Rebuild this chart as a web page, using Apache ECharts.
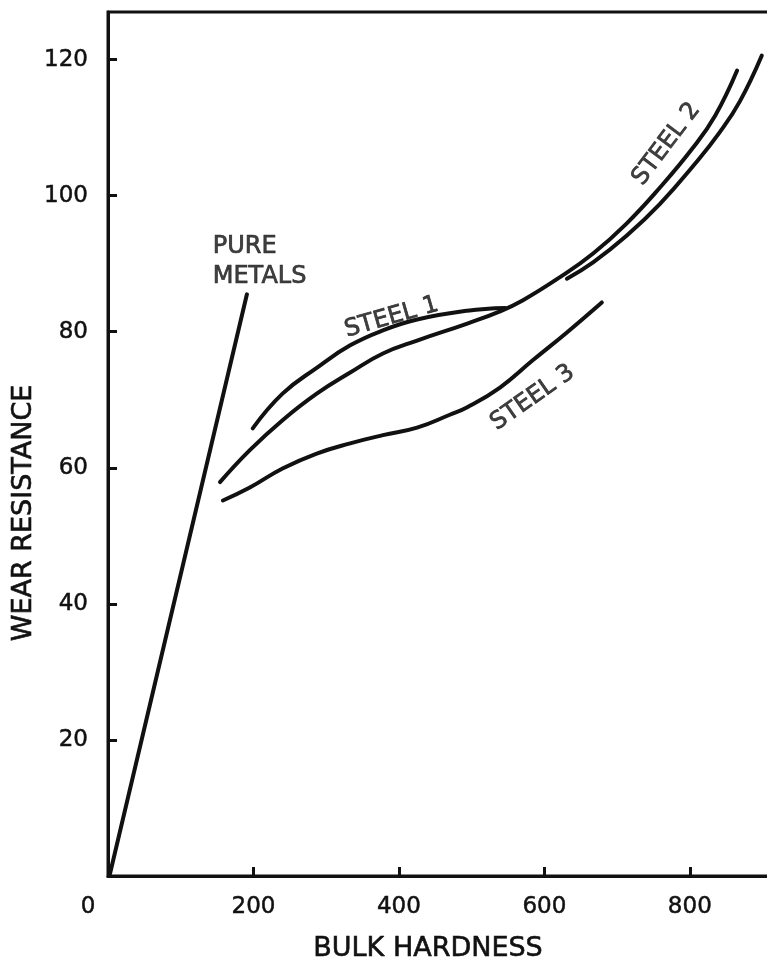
<!DOCTYPE html>
<html>
<head>
<meta charset="utf-8">
<script src="https://cdn.jsdelivr.net/npm/echarts@6/dist/echarts.min.js"></script>
<style>
html,body{margin:0;padding:0;background:#fff;}
#chart{width:767px;height:960px;}
</style>
</head>
<body>
<div id="chart"></div>
<script>
// ---- data (bulk hardness, wear resistance) ----
var xTicks = [0, 200, 400, 600, 800];
var yTicks = [20, 40, 60, 80, 100, 120];

var pureMetals = [[2, 0], [191, 85.5]];

var steel1Upper = [
  [199, 65.8], [240, 70.9], [287, 74.7], [333, 78.0], [378, 80.2],
  [425, 81.8], [494, 83.1], [546, 83.5]
];

var steel1Steel2Main = [
  [154, 57.9], [195, 62.6], [240, 67.0], [287, 70.9], [333, 74.0],
  [378, 76.8], [425, 78.7], [494, 81.2], [539, 83.0], [570, 84.6],
  [621, 88.0], [667, 91.5], [713, 95.9], [759, 101.2], [804, 107.0],
  [835, 111.8], [865, 118.4]
];

var steel2Lower = [
  [631, 87.8], [667, 90.2], [713, 94.1], [759, 98.8], [808, 104.8],
  [841, 109.3], [869, 113.9], [899, 120.6]
];

var steel3 = [
  [158, 55.2], [195, 57.1], [240, 59.9], [287, 62.1], [333, 63.6],
  [378, 64.8], [425, 65.9], [470, 67.8], [494, 68.9], [539, 71.8],
  [584, 75.8], [631, 79.9], [679, 84.3]
];

var curveNames = ['PURE\nMETALS', 'STEEL 1', 'STEEL 2', 'STEEL 3'];
var curveNameAnchors = [[144, 90.3], [390, 82.1], [768, 107.6], [584, 70.3]];

// ---- chart ----
var FONT = '"DejaVu Sans", "Liberation Sans", sans-serif';
var INK = '#111';

function lineSeries(data) {
  return {
    type: 'line', data: data, smooth: 0.45, showSymbol: false, symbol: 'none',
    lineStyle: { color: INK, width: 4, cap: 'round' }, silent: true, z: 3
  };
}

var labelRot = [0, 16, 53, 35];
var labelData = curveNames.map(function (n, i) {
  var item = { value: curveNameAnchors[i], name: n,
    label: { rotate: labelRot[i] } };
  if (i === 0) {
    item.label = { position: 'right', distance: 0, align: 'left', rotate: 0, lineHeight: 30 };
  }
  return item;
});

var chart = echarts.init(document.getElementById('chart'), null, { renderer: 'canvas' });
chart.setOption({
  animation: false,
  backgroundColor: '#fff',
  grid: { left: 108, top: 12, width: 680, height: 864, show: true,
    outerBoundsMode: 'none', containLabel: false,
    borderColor: INK, borderWidth: 3, backgroundColor: 'transparent' },
  xAxis: {
    type: 'value', min: 0, max: 935, interval: 200,
    splitLine: { show: false },
    axisLine: { show: true, lineStyle: { color: INK, width: 3 } },
    axisTick: { show: true, inside: true, length: 9, lineStyle: { color: INK, width: 3 } },
    axisLabel: {
      show: true, margin: 20, color: INK, fontFamily: FONT, fontSize: 23,
      textBorderColor: INK, textBorderWidth: 0.5,
      showMaxLabel: false,
      formatter: function (v) {
        if (xTicks.indexOf(v) < 0) return '';
        if (v === 0) return '{z|0}';
        return String(v);
      },
      rich: { z: { fontFamily: FONT, fontSize: 23, color: INK, textBorderColor: INK,
        textBorderWidth: 0.5, padding: [0, 40, 0, 0] } }
    }
  },
  yAxis: {
    type: 'value', min: 0, max: 127, interval: 20,
    splitLine: { show: false },
    axisLine: { show: true, lineStyle: { color: INK, width: 3 } },
    axisTick: { show: true, inside: true, length: 9, lineStyle: { color: INK, width: 3 } },
    axisLabel: {
      show: true, margin: 20, color: INK, fontFamily: FONT, fontSize: 23,
      textBorderColor: INK, textBorderWidth: 0.5,
      showMinLabel: false, showMaxLabel: false,
      formatter: function (v) { return yTicks.indexOf(v) < 0 ? '' : String(v); }
    }
  },
  series: [
    lineSeries(pureMetals),
    lineSeries(steel1Upper),
    lineSeries(steel1Steel2Main),
    lineSeries(steel2Lower),
    lineSeries(steel3),
    {
      type: 'scatter', data: labelData, symbolSize: 0, silent: true, z: 4,
      label: { show: true, position: 'inside', formatter: '{b}', color: INK,
        fontFamily: FONT, fontSize: 24, textBorderColor: INK, textBorderWidth: 0.7 }
    }
  ],
  graphic: [
    { type: 'text', x: 428, y: 949,
      style: { text: 'BULK HARDNESS', fill: INK, font: '27px ' + FONT,
        stroke: INK, lineWidth: 0.6,
        textAlign: 'center', textVerticalAlign: 'middle' } },
    { type: 'text', x: 24, y: 513, rotation: Math.PI / 2,
      style: { text: 'WEAR RESISTANCE', fill: INK, font: '27px ' + FONT,
        stroke: INK, lineWidth: 0.6,
        textAlign: 'center', textVerticalAlign: 'middle' } }
  ]
});
</script>
</body>
</html>
